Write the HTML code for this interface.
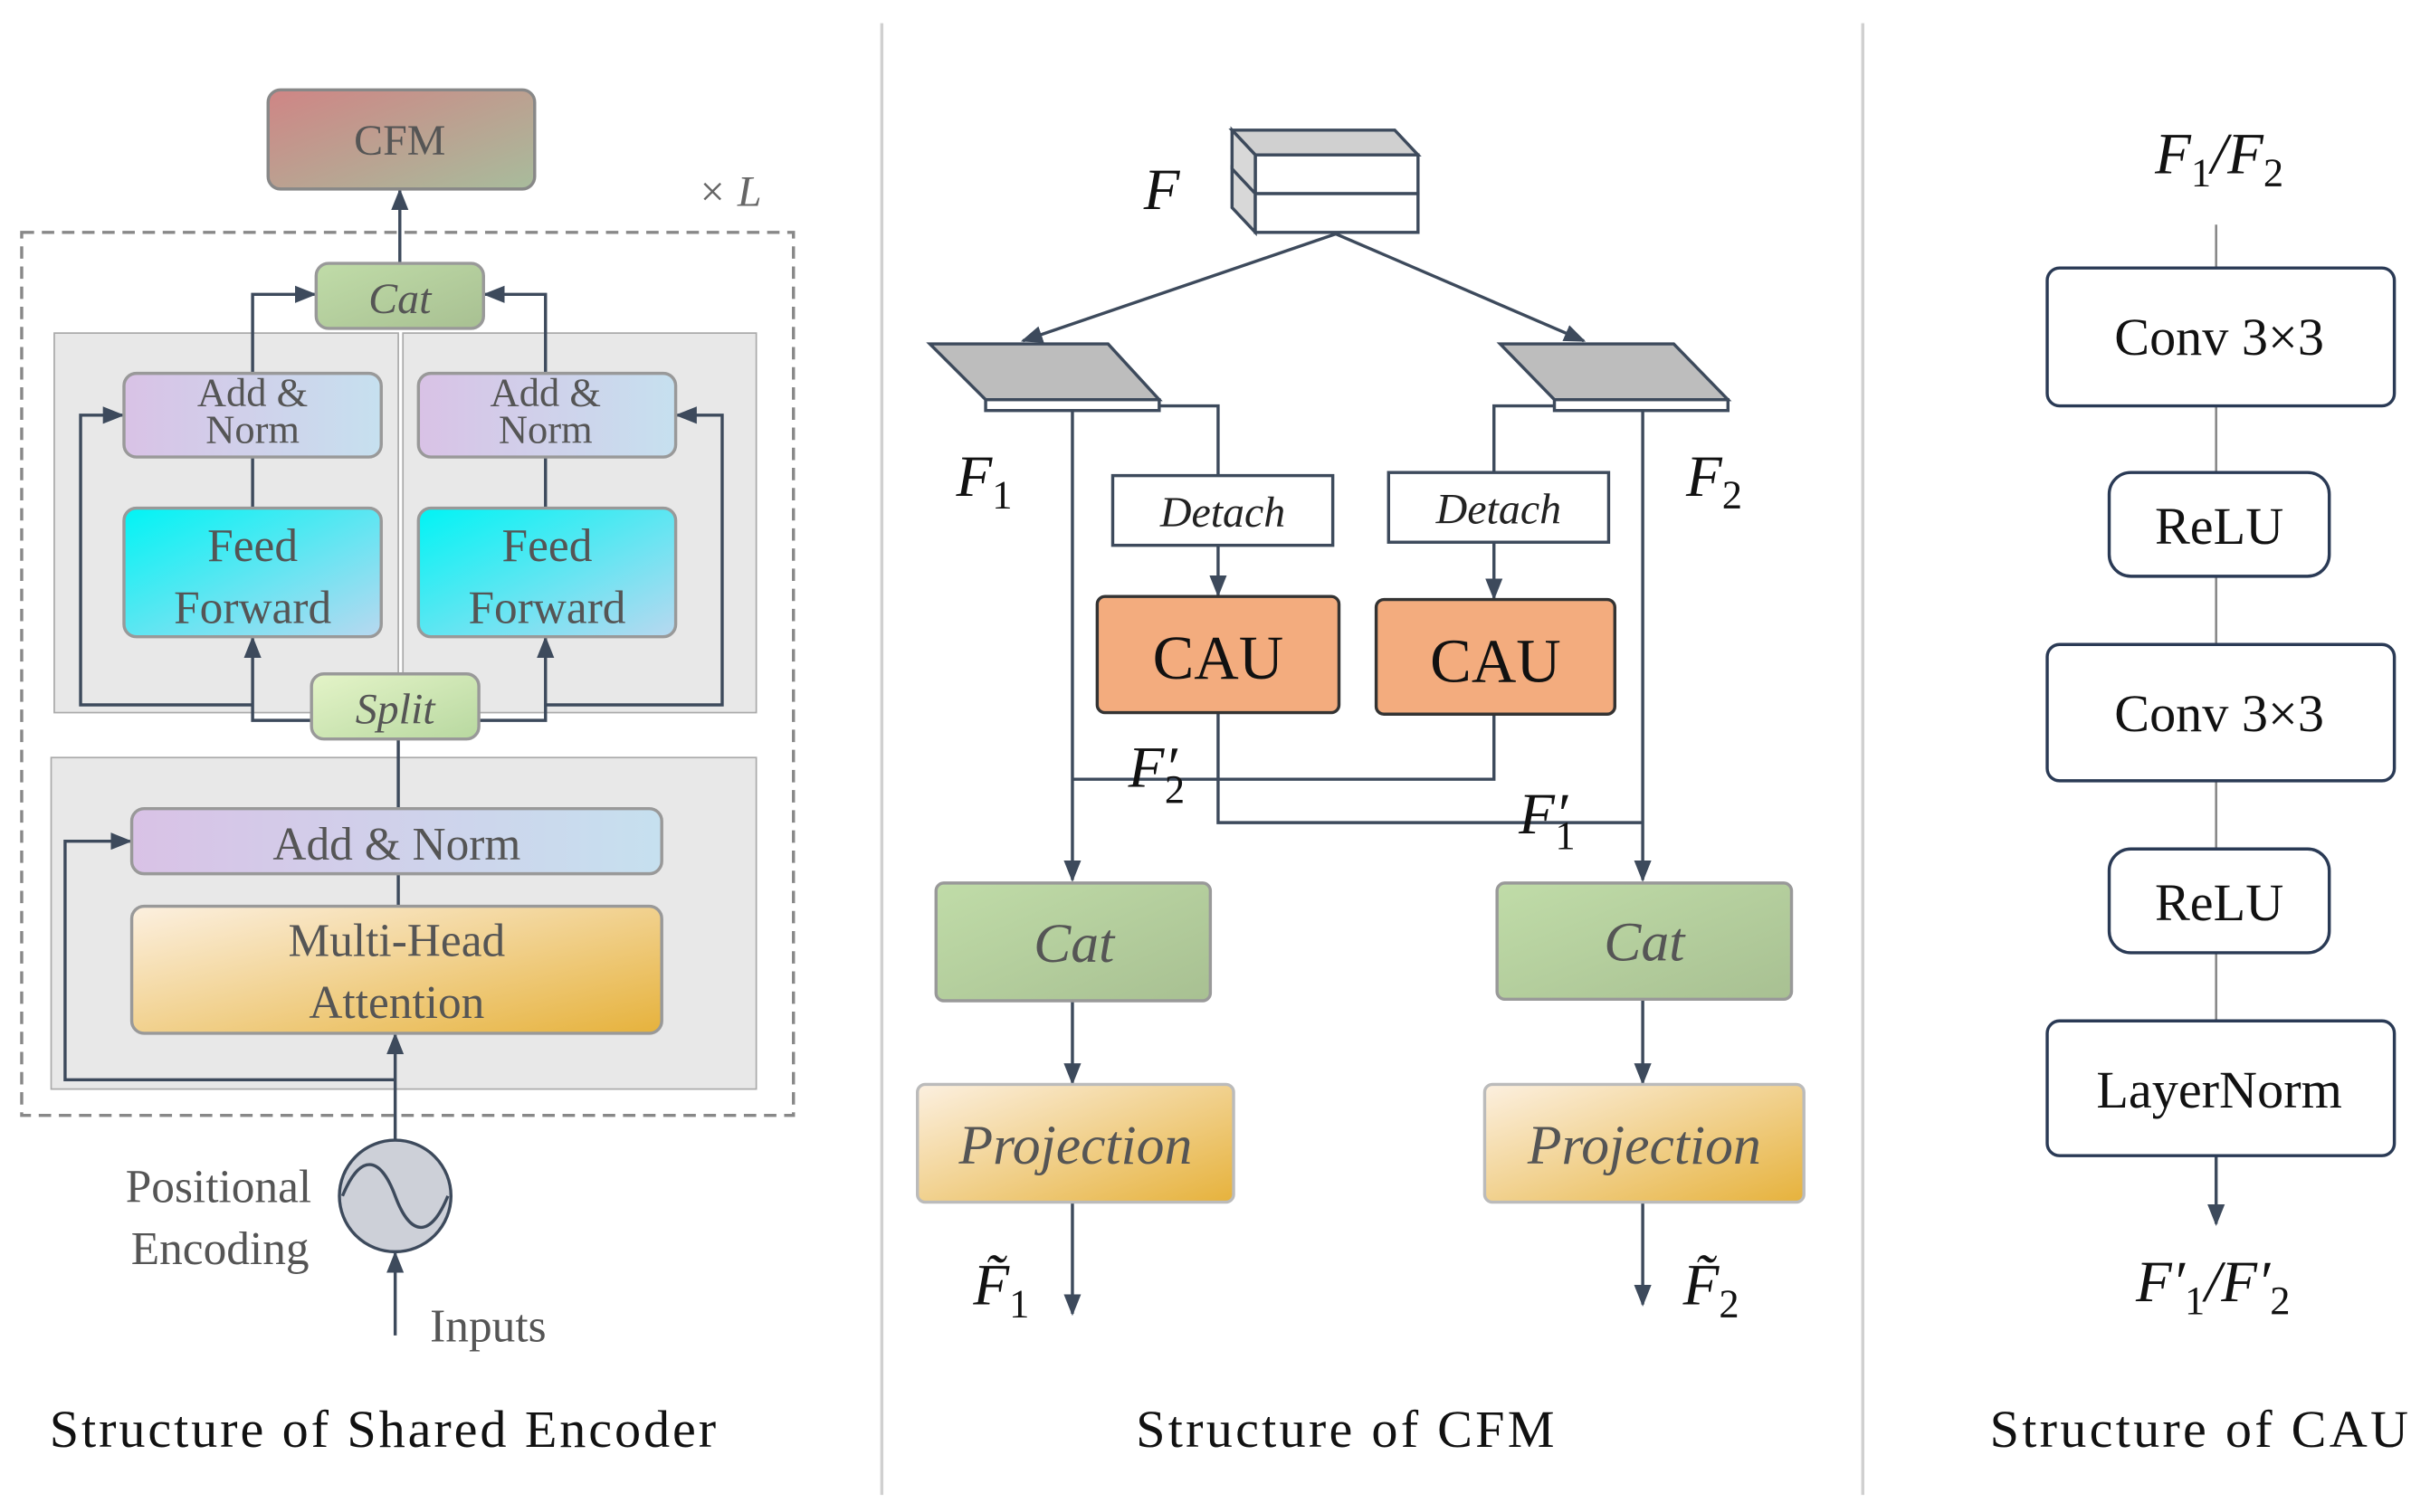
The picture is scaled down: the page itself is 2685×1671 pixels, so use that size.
<!DOCTYPE html>
<html><head><meta charset="utf-8"><style>html,body{margin:0;padding:0;background:#fff}svg{display:block}</style></head>
<body>
<svg width="2685" height="1671" viewBox="0 0 1568 976" preserveAspectRatio="none" xmlns="http://www.w3.org/2000/svg" font-family="Liberation Serif, serif">
<defs>
<marker id="a" viewBox="0 0 10 10" refX="9" refY="5" markerWidth="7" markerHeight="7" orient="auto-start-reverse"><path d="M0,1 L10,5 L0,9 z" fill="#3d4a5c"/></marker>
<linearGradient id="cfm" x1="0" y1="0" x2="1" y2="1"><stop offset="0" stop-color="#cf8585"/><stop offset="1" stop-color="#a8bc9c"/></linearGradient>
<linearGradient id="an" x1="0" y1="0" x2="1" y2="0"><stop offset="0" stop-color="#d9c2e6"/><stop offset="1" stop-color="#c6e0ef"/></linearGradient>
<linearGradient id="ff" x1="0" y1="0" x2="1" y2="1"><stop offset="0" stop-color="#00f4f4"/><stop offset="1" stop-color="#b8d8f0"/></linearGradient>
<linearGradient id="mh" x1="0" y1="0" x2="1" y2="1"><stop offset="0" stop-color="#fcf0e0"/><stop offset="1" stop-color="#e6b23c"/></linearGradient>
<linearGradient id="gr" x1="0" y1="0" x2="1" y2="1"><stop offset="0" stop-color="#c0dca8"/><stop offset="1" stop-color="#a8c092"/></linearGradient>
<linearGradient id="sp" x1="0" y1="0" x2="1" y2="1"><stop offset="0" stop-color="#e4f4c8"/><stop offset="1" stop-color="#b8d8a0"/></linearGradient>
</defs>
<g stroke="#d0d0d0" stroke-width="2"><line x1="569" y1="15" x2="569" y2="965"/><line x1="1202" y1="15" x2="1202" y2="965"/></g>

<!-- LEFT -->
<rect x="14" y="150" width="498" height="570" fill="none" stroke="#888" stroke-width="2" stroke-dasharray="8,5"/>
<rect x="35" y="215" width="222" height="245" fill="#e8e8e8" stroke="#aaa"/>
<rect x="260" y="215" width="228" height="245" fill="#e8e8e8" stroke="#aaa"/>
<rect x="33" y="489" width="455" height="214" fill="#e8e8e8" stroke="#aaa"/>
<g fill="none" stroke="#3d4a5c" stroke-width="2">
<line x1="258" y1="170" x2="258" y2="123" marker-end="url(#a)"/>
<polyline points="163,241 163,190 203,190" marker-end="url(#a)"/>
<polyline points="352,241 352,190 313,190" marker-end="url(#a)"/>
<line x1="163" y1="295" x2="163" y2="328"/><line x1="352" y1="295" x2="352" y2="328"/>
<polyline points="205,465 163,465 163,412" marker-end="url(#a)"/>
<polyline points="305,465 352,465 352,412" marker-end="url(#a)"/>
<polyline points="163,455 52,455 52,268 79,268" marker-end="url(#a)"/>
<polyline points="352,455 466,455 466,268 437,268" marker-end="url(#a)"/>
<line x1="257" y1="522" x2="257" y2="477"/>
<line x1="257" y1="585" x2="257" y2="564"/>
<line x1="255" y1="736" x2="255" y2="668" marker-end="url(#a)"/>
<polyline points="255,697 42,697 42,543 84,543" marker-end="url(#a)"/>
<line x1="255" y1="862" x2="255" y2="809" marker-end="url(#a)"/>
</g>
<rect x="173" y="58" width="172" height="64" rx="8" fill="url(#cfm)" stroke="#888" stroke-width="2"/>
<text x="258" y="100" font-size="28" fill="#555" text-anchor="middle">CFM</text>
<text x="450" y="133" font-size="28" fill="#666" font-style="italic">× L</text>
<rect x="204" y="170" width="108" height="42" rx="8" fill="url(#gr)" stroke="#999" stroke-width="2"/>
<text x="258" y="202" font-size="28" fill="#555" font-style="italic" text-anchor="middle">Cat</text>
<rect x="80" y="241" width="166" height="54" rx="8" fill="url(#an)" stroke="#999" stroke-width="2"/>
<rect x="270" y="241" width="166" height="54" rx="8" fill="url(#an)" stroke="#999" stroke-width="2"/>
<g font-size="26" fill="#555" text-anchor="middle"><text x="163" y="262">Add &amp;</text><text x="163" y="286">Norm</text><text x="352" y="262">Add &amp;</text><text x="352" y="286">Norm</text></g>
<rect x="80" y="328" width="166" height="83" rx="8" fill="url(#ff)" stroke="#999" stroke-width="2"/>
<rect x="270" y="328" width="166" height="83" rx="8" fill="url(#ff)" stroke="#999" stroke-width="2"/>
<g font-size="30" fill="#555" text-anchor="middle"><text x="163" y="362">Feed</text><text x="163" y="402">Forward</text><text x="353" y="362">Feed</text><text x="353" y="402">Forward</text></g>
<rect x="201" y="435" width="108" height="42" rx="8" fill="url(#sp)" stroke="#999" stroke-width="2"/>
<text x="255" y="467" font-size="28" fill="#555" font-style="italic" text-anchor="middle">Split</text>
<rect x="85" y="522" width="342" height="42" rx="8" fill="url(#an)" stroke="#999" stroke-width="2"/>
<text x="256" y="555" font-size="30" fill="#555" text-anchor="middle">Add  &amp; Norm</text>
<rect x="85" y="585" width="342" height="82" rx="8" fill="url(#mh)" stroke="#999" stroke-width="2"/>
<g font-size="30" fill="#555" text-anchor="middle"><text x="256" y="617">Multi-Head</text><text x="256" y="657">Attention</text></g>
<circle cx="255" cy="772" r="36" fill="#cdd0d8" stroke="#3d4a5c" stroke-width="2"/>
<path d="M221,772 C232,745 245,745 255,772 C265,799 278,799 289,772" fill="none" stroke="#3d4a5c" stroke-width="2"/>
<g font-size="30" fill="#555" text-anchor="middle"><text x="141" y="776">Positional</text><text x="142" y="816">Encoding</text><text x="315" y="866">Inputs</text></g>
<text x="32" y="934" font-size="34" fill="#111" textLength="430" lengthAdjust="spacing">Structure of Shared Encoder</text>

<!-- MIDDLE -->
<g stroke="#3d4a5c" stroke-width="2">
<polygon points="795,84 900,84 915,100 810,100" fill="#d0d0d0"/>
<rect x="810" y="100" width="105" height="25" fill="#fff"/>
<polygon points="795,84 810,100 810,125 795,109" fill="#d8d8d8"/>
<polygon points="795,109 810,125 810,150 795,134" fill="#d8d8d8"/>
<rect x="810" y="125" width="105" height="25" fill="#fff"/>
<polygon points="600,222 715,222 748,258 636,258" fill="#bdbdbd"/>
<rect x="636" y="258" width="112" height="7" fill="#fff"/>
<polygon points="968,222 1080,222 1115,258 1003,258" fill="#bdbdbd"/>
<rect x="1003" y="258" width="112" height="7" fill="#fff"/>
</g>
<g fill="none" stroke="#3d4a5c" stroke-width="2">
<line x1="862" y1="151" x2="660" y2="220" marker-end="url(#a)"/>
<line x1="862" y1="151" x2="1022" y2="220" marker-end="url(#a)"/>
<polyline points="748,262 786,262 786,307"/>
<line x1="786" y1="352" x2="786" y2="384" marker-end="url(#a)"/>
<polyline points="1003,262 964,262 964,305"/>
<line x1="964" y1="350" x2="964" y2="386" marker-end="url(#a)"/>
<line x1="692" y1="265" x2="692" y2="568" marker-end="url(#a)"/>
<line x1="1060" y1="265" x2="1060" y2="568" marker-end="url(#a)"/>
<polyline points="964,461 964,503 692,503"/>
<polyline points="786,460 786,531 1060,531"/>
<line x1="692" y1="646" x2="692" y2="699" marker-end="url(#a)"/>
<line x1="1060" y1="645" x2="1060" y2="699" marker-end="url(#a)"/>
<line x1="692" y1="776" x2="692" y2="848" marker-end="url(#a)"/>
<line x1="1060" y1="776" x2="1060" y2="842" marker-end="url(#a)"/>
</g>
<g font-size="38" font-style="italic" fill="#111">
<text x="738" y="135">F</text>
<text x="617" y="320">F<tspan font-size="26" font-style="normal" dy="8">1</tspan></text>
<text x="1088" y="320">F<tspan font-size="26" font-style="normal" dy="8">2</tspan></text>
<text x="728" y="508">F′<tspan font-size="26" font-style="normal" dy="10" dx="-8">2</tspan></text>
<text x="980" y="538">F′<tspan font-size="26" font-style="normal" dy="10" dx="-8">1</tspan></text>
<text x="628" y="842">F̃<tspan font-size="26" font-style="normal" dy="8">1</tspan></text>
<text x="1086" y="842">F̃<tspan font-size="26" font-style="normal" dy="8">2</tspan></text>
</g>
<rect x="718" y="307" width="142" height="45" fill="#fff" stroke="#3d4a5c" stroke-width="2"/>
<rect x="896" y="305" width="142" height="45" fill="#fff" stroke="#3d4a5c" stroke-width="2"/>
<g font-size="28" font-style="italic" fill="#222" text-anchor="middle"><text x="789" y="340">Detach</text><text x="967" y="338">Detach</text></g>
<rect x="708" y="385" width="156" height="75" rx="5" fill="#f3ac7e" stroke="#333" stroke-width="2"/>
<rect x="888" y="387" width="154" height="74" rx="5" fill="#f3ac7e" stroke="#333" stroke-width="2"/>
<g font-size="40" fill="#111" text-anchor="middle"><text x="786" y="438">CAU</text><text x="965" y="440">CAU</text></g>
<rect x="604" y="570" width="177" height="76" rx="5" fill="url(#gr)" stroke="#999" stroke-width="2"/>
<rect x="966" y="570" width="190" height="75" rx="5" fill="url(#gr)" stroke="#999" stroke-width="2"/>
<rect x="592" y="700" width="204" height="76" rx="5" fill="url(#mh)" stroke="#bbb" stroke-width="2"/>
<rect x="958" y="700" width="206" height="76" rx="5" fill="url(#mh)" stroke="#bbb" stroke-width="2"/>
<g font-size="36" font-style="italic" fill="#555" text-anchor="middle">
<text x="693" y="621">Cat</text><text x="1061" y="620">Cat</text>
<text x="694" y="751">Projection</text><text x="1061" y="751">Projection</text></g>
<text x="733" y="934" font-size="34" fill="#111" textLength="270" lengthAdjust="spacing">Structure of CFM</text>

<!-- RIGHT -->
<g fill="none" stroke="#888" stroke-width="1.5"><line x1="1430" y1="145" x2="1430" y2="659"/></g>
<line x1="1430" y1="746" x2="1430" y2="790" stroke="#3d4a5c" stroke-width="2" marker-end="url(#a)"/>
<g fill="#fff" stroke="#2a3a55" stroke-width="2">
<rect x="1321" y="173" width="224" height="89" rx="8"/>
<rect x="1361" y="305" width="142" height="67" rx="14"/>
<rect x="1321" y="416" width="224" height="88" rx="8"/>
<rect x="1361" y="548" width="142" height="67" rx="14"/>
<rect x="1321" y="659" width="224" height="87" rx="8"/>
</g>
<g font-size="34" fill="#111" text-anchor="middle">
<text x="1432" y="229">Conv 3×3</text><text x="1432" y="351">ReLU</text>
<text x="1432" y="472">Conv 3×3</text><text x="1432" y="594">ReLU</text>
<text x="1432" y="715">LayerNorm</text></g>
<g font-size="38" font-style="italic" fill="#111" text-anchor="middle">
<text x="1432" y="112">F<tspan font-size="26" font-style="normal" dy="8">1</tspan><tspan dy="-8">/F</tspan><tspan font-size="26" font-style="normal" dy="8">2</tspan></text>
<text x="1428" y="840">F′<tspan font-size="26" font-style="normal" dy="8">1</tspan><tspan dy="-8">/F′</tspan><tspan font-size="26" font-style="normal" dy="8">2</tspan></text></g>
<text x="1284" y="934" font-size="34" fill="#111" textLength="270" lengthAdjust="spacing">Structure of CAU</text>
</svg>
</body></html>
